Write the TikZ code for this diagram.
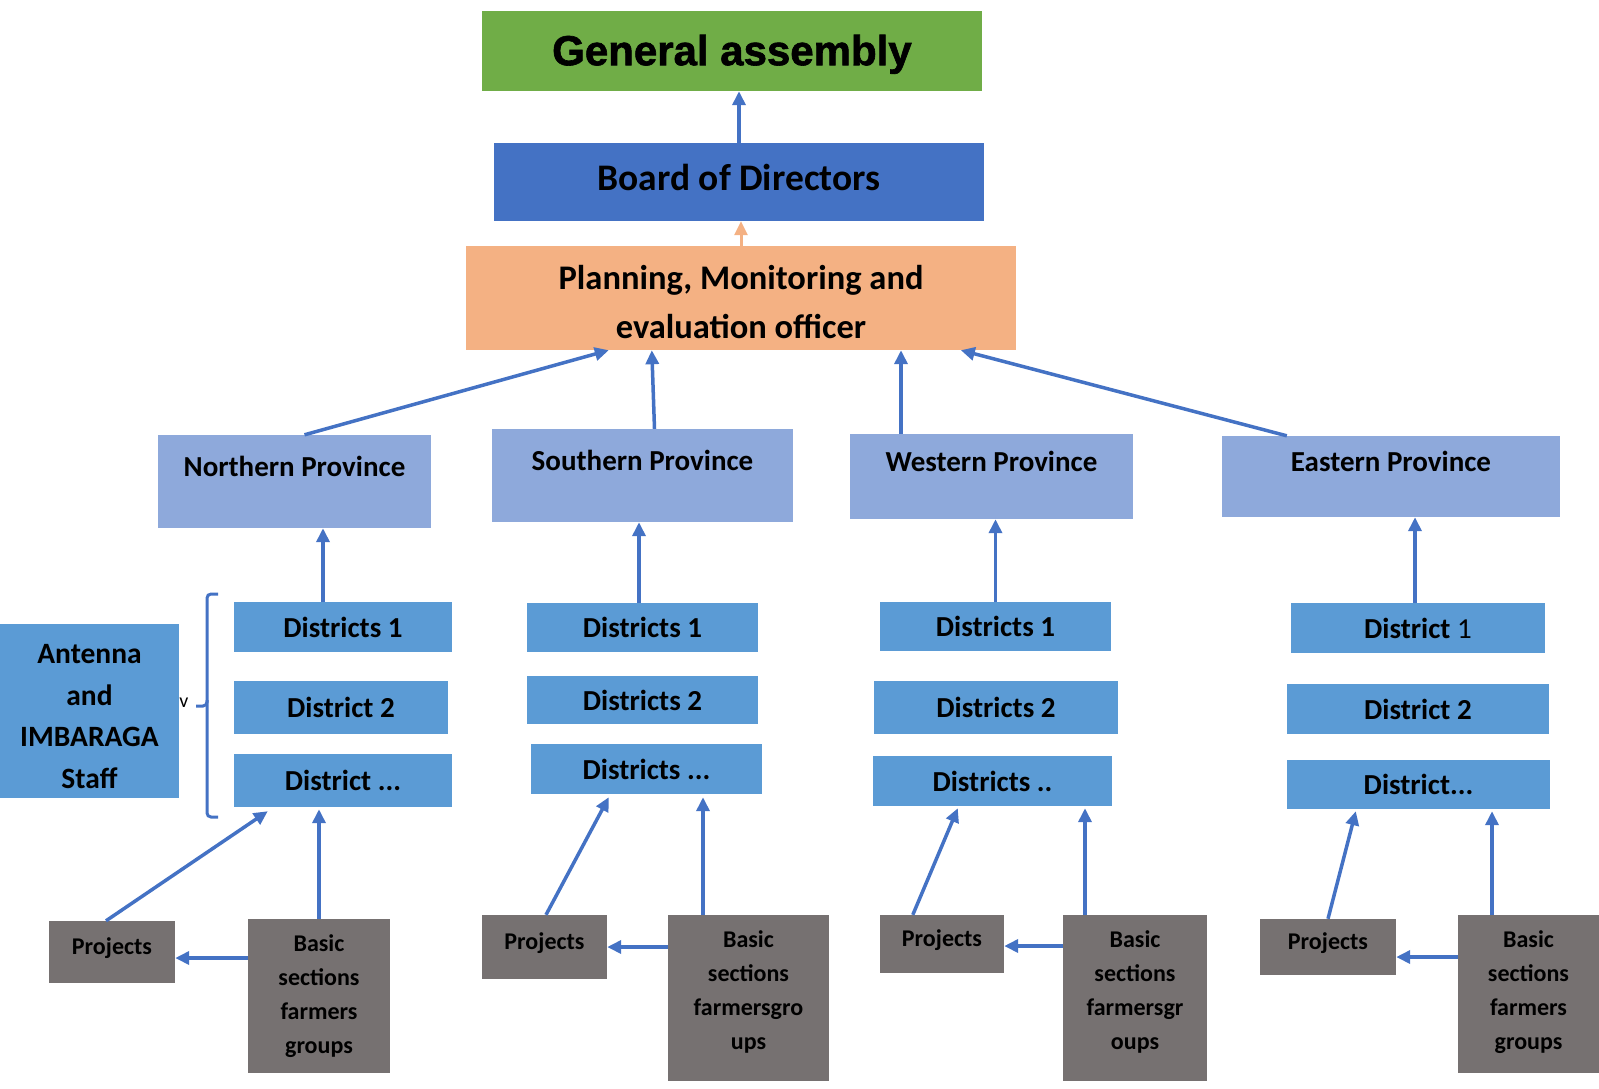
\documentclass[tikz,border=0pt]{standalone}
\usepackage{fontspec}
\setmainfont{Carlito}
\newfontfamily\arialfont{Liberation Sans}[BoldFeatures={FakeBold=1.5}]
\usepackage{tikz}
\usetikzlibrary{arrows.meta,calc}
\definecolor{gagreen}{HTML}{70AD47}
\definecolor{bdblue}{HTML}{4472C4}
\definecolor{pmorange}{HTML}{F4B183}
\definecolor{provblue}{HTML}{8EA9DB}
\definecolor{distblue}{HTML}{5B9BD5}
\definecolor{grpgrey}{HTML}{767171}

\begin{document}
\begin{tikzpicture}[x=1pt,y=-1pt,
    box/.style={rectangle, inner sep=0pt, align=center},
    sz/.style 2 args={minimum width=#1pt, minimum height=#2pt},
    prov/.style={box, fill=provblue, text height=20pt, text depth=30pt,
      font=\fontsize{29}{33}\selectfont\bfseries},
    dist/.style={box, fill=distblue,
      font=\fontsize{29}{33}\selectfont\bfseries},
    proj/.style={box, fill=grpgrey, text height=18pt, text depth=14pt,
      font=\fontsize{24}{28}\selectfont\bfseries},
    grp/.style={box, fill=grpgrey,
      font=\fontsize{24}{34}\selectfont\bfseries},
    >={Triangle[length=14pt,width=13pt]},
    link/.style={->, line width=3.5pt, draw=bdblue},
    brace/.style={line width=3pt, draw=bdblue, rounded corners=4pt}
  ]
  \useasboundingbox (0,0) rectangle (1599,1088);
  \node[box, sz={500}{80}, fill=gagreen, text depth=2pt, font=\fontsize{42}{48}\selectfont\arialfont\bfseries] (GA) at (732,51) {General assembly};
  \node[box, sz={490}{78}, fill=bdblue, text depth=9pt, font=\fontsize{37.5}{42}\selectfont\bfseries] (BD) at (739,182) {Board of Directors};
  \node[box, sz={550}{104}, fill=pmorange, text height=82pt, font=\fontsize{34.5}{49}\selectfont\bfseries] (PM) at (741,298) {Planning, Monitoring and\\evaluation officer};

  \node[prov, sz={273}{93}] (N) at (294.5,481.5) {Northern Province};
  \node[prov, sz={301}{93}] (S) at (642.5,475.5) {Southern Province};
  \node[prov, sz={283}{85}] (W) at (991.5,476.5) {Western Province};
  \node[prov, sz={338}{81}] (E) at (1391,476.5) {Eastern Province};

  \node[box, sz={179}{174}, fill=distblue, text height=155pt, font=\fontsize{29.5}{41.5}\selectfont\bfseries] (A) at (89.5,711) {Antenna\\and\\IMBARAGA\\Staff};
  \node[font=\fontsize{20}{24}\selectfont, inner sep=0pt] (V) at (184,703) {v};

  \node[dist, sz={218}{50}] (N1) at (343,627) {Districts 1};
  \node[dist, sz={214}{53}] (N2) at (341,707.5) {District 2};
  \node[dist, sz={218}{53}] (N3) at (343,780.5) {District ...};
  \node[dist, sz={231}{49}] (S1) at (642.5,627.5) {Districts 1};
  \node[dist, sz={231}{48}] (S2) at (642.5,700) {Districts 2};
  \node[dist, sz={231}{50}] (S3) at (646.5,769) {Districts ...};
  \node[dist, sz={231}{49}] (W1) at (995.5,626.5) {Districts 1};
  \node[dist, sz={244}{53}] (W2) at (996,707.5) {Districts 2};
  \node[dist, sz={239}{50}] (W3) at (992.5,781) {Districts ..};
  \node[dist, sz={254}{50}] (E1) at (1418,628) {District {\mdseries 1}};
  \node[dist, sz={262}{50}] (E2) at (1418,709) {District 2};
  \node[dist, sz={263}{49}] (E3) at (1418.5,784.5) {District...};

  \node[proj, sz={126}{62}] (NP) at (112,952) {Projects};
  \node[grp, sz={142}{154}] (NB) at (319,996) {Basic\\sections\\farmers\\groups};
  \node[proj, sz={125}{64}] (SP) at (544.5,947) {Projects};
  \node[grp, sz={161}{166}, text depth=16pt] (SB) at (748.5,998) {Basic\\sections\\farmersgro\\ups};
  \node[proj, sz={124}{58}] (WP) at (942,944) {Projects};
  \node[grp, sz={144}{166}, text depth=16pt] (WB) at (1135,998) {Basic\\sections\\farmersgr\\oups};
  \node[proj, sz={136}{56}] (EP) at (1328,947) {Projects};
  \node[grp, sz={141}{158}, text depth=8pt] (EB) at (1528.5,994) {Basic\\sections\\farmers\\groups};

  \draw[brace] (218,594) -| (207,706) -- (196,706);
  \draw[brace] (207,700) |- (218,817);

  \draw[link] (BD.north) -- (BD.north |- GA.south);
  \draw[link, draw=pmorange, line width=3pt] (PM.north) -- (PM.north |- BD.south);

  \draw[link] ([xshift=10pt]N.north) -- ([xshift=143pt]PM.south west);
  \draw[link] ([xshift=12pt]S.north) -- ([xshift=186pt]PM.south west);
  \draw[link] ([xshift=-90.5pt]W.north) -- ([xshift=-90.5pt]W.north |- PM.south);
  \draw[link] ([xshift=65pt]E.north west) -- ([xshift=495pt]PM.south west);

  \draw[link] ([xshift=-20pt]N1.north) -- ([xshift=-20pt]N1.north |- N.south);
  \draw[link] ([xshift=-3.5pt]S1.north) -- ([xshift=-3.5pt]S1.north |- S.south);
  \draw[link] (W1.north) -- (W1.north |- W.south);
  \draw[link] ([xshift=-3pt]E1.north) -- ([xshift=-3pt]E1.north |- E.south);

  \draw[link] ([xshift=-6pt]NP.north) -- ([xshift=34pt,yshift=-4pt]N3.south west);
  \draw[link] (NB.north) -- ([yshift=-2pt]NB.north |- N3.south);
  \draw[link] ([yshift=-6pt]NP.east -| NB.west) -- ([yshift=-6pt]NP.east);
  \draw[link] ([xshift=1.5pt]SP.north) -- ([xshift=78pt,yshift=-3pt]S3.south west);
  \draw[link] ([xshift=-45.5pt]SB.north) -- ([xshift=-45.5pt,yshift=-3pt]SB.north |- S3.south);
  \draw[link] (SP.east -| SB.west) -- (SP.east);
  \draw[link] ([xshift=33pt]WP.north west) -- ([xshift=85pt,yshift=-2pt]W3.south west);
  \draw[link] ([xshift=-50pt]WB.north) -- ([xshift=-50pt,yshift=-2pt]WB.north |- W3.south);
  \draw[link] ([yshift=-2pt]WP.east -| WB.west) -- ([yshift=-2pt]WP.east);
  \draw[link] (EP.north) -- ([xshift=69pt,yshift=-2pt]E3.south west);
  \draw[link] ([xshift=-36.5pt]EB.north) -- ([xshift=-36.5pt,yshift=-2pt]EB.north |- E3.south);
  \draw[link] ([yshift=-10pt]EP.east -| EB.west) -- ([yshift=-10pt]EP.east);
\end{tikzpicture}
\end{document}
